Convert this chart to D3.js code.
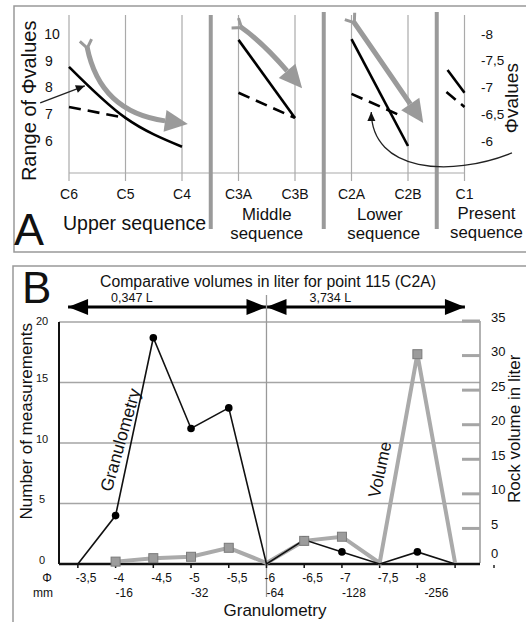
<!DOCTYPE html>
<html><head><meta charset="utf-8">
<script src="https://cdn.jsdelivr.net/npm/d3@7"></script>
<style>
body{margin:0;background:#fff}
svg{display:block}
text{font-family:"Liberation Sans",Arial,Helvetica,sans-serif;fill:#111}
</style>
</head><body>
<svg id="chart" width="526" height="622"></svg>
<script>
// ---------------- Panel A data ----------------
const stages = ['C6','C5','C4','C3A','C3B','C2A','C2B','C1'];
const sequenceNames = [['Upper sequence'], ['Middle','sequence'], ['Lower','sequence'], ['Present','sequence']];
const sequenceStages = [[0,2],[3,4],[5,6],[7,7]];
const leftTickValues = [6,7,8,9,10];
const rightTickLabels = ['-8','-7,5','-7','-6,5','-6'];
const rightTickValues = [10,9,8,7,6];
// solid = maximum phi, dashed = mode (stage index, value on left scale)
const solidSegments = [
  [[0,8.77],[1,6.86],[2,5.78]],
  [[3,9.78],[4,6.86]],
  [[5,9.81],[6,5.81]],
  [[6.7,8.65],[7,7.8]]
];
const dashedSegments = [
  [[0,7.27],[1,6.86]],
  [[3,7.8],[4,6.86]],
  [[5,7.76],[5.92,6.9]],
  [[6.68,7.83],[7,7.27]]
];
// grey trend arrows: tail, control, end
const trendArrows = [
  [[0.32,9.51],[0.55,7.08],[1.70,6.75]],
  [[3.04,10.26],[3.42,9.70],[3.86,8.62]],
  [[5.04,10.45],[5.36,9.48],[6.04,7.38]]
];
const pointerArrow = [[-0.51,7.42],[0.28,8.06]];
const curvedArrow = [[7.84,5.55],[6.74,4.62],[5.36,4.84],[5.35,7.08]];

// ---------------- Panel B data ----------------
const phi = [-3.5,-4,-4.5,-5,-5.5,-6,-6.5,-7,-7.5,-8,-8.5];
const phiLabels = ['-3,5','-4','-4,5','-5','-5,5','-6','-6,5','-7','-7,5','-8',''];
const mmPhi = [-4,-5,-6,-7,-8];
const mmLabels = ['-16','-32','-64','-128','-256'];
const granulometry = [0,4,18.7,11.2,12.9,0,2,1,0,1,0];
const volume = [null,0.2,0.7,0.9,2.2,0,3.2,3.8,0,30.2,0];
const countTicks = [0,5,10,15,20];
const volumeTicks = [0,5,10,15,20,25,30,35];
const spanFrom = [-3.37,-6];
const spanTo = [-6,-8.63];
const spanLabels = ['0,347 L','3,734 L'];

const svg = d3.select('#chart');
const GREY = '#9a9a9a';

const defs = svg.append('defs');
function marker(id, path, w, h, color){
  defs.append('marker').attr('id',id).attr('markerUnits','userSpaceOnUse')
    .attr('viewBox',`${-w} ${-h} ${2*w} ${2*h}`).attr('markerWidth',2*w).attr('markerHeight',2*h)
    .attr('refX',0).attr('refY',0).attr('orient','auto')
    .append('path').attr('d',path).attr('fill',color).attr('stroke','none');
}
marker('greyHead','M0,-11 L23,0 L0,11 Z',24,12,GREY);
defs.append('marker').attr('id','greyTail').attr('markerUnits','userSpaceOnUse')
  .attr('viewBox','-12 -12 24 24').attr('markerWidth',24).attr('markerHeight',24)
  .attr('refX',0).attr('refY',0).attr('orient','auto')
  .append('path').attr('d','M-7,-6 L1,0 L-7,6').attr('fill','none').attr('stroke',GREY).attr('stroke-width',3);
marker('blackHead','M-9,-4 L0,0 L-9,4 Z',10,5,'#111');
marker('bigHead','M-20,-8 L0,0 L-20,8 Z',21,9,'#000');
defs.append('marker').attr('id','bigHeadStart').attr('markerUnits','userSpaceOnUse')
  .attr('viewBox','-21 -9 42 18').attr('markerWidth',42).attr('markerHeight',18)
  .attr('refX',0).attr('refY',0).attr('orient','auto-start-reverse')
  .append('path').attr('d','M-20,-8 L0,0 L-20,8 Z').attr('fill','#000');

// ================= PANEL A =================
svg.append('rect').attr('x',14).attr('y',6).attr('width',540).attr('height',246)
  .attr('fill','none').attr('stroke','#999').attr('stroke-width',1.5);

const xA = d3.scaleLinear().domain([0,7]).range([69,464.5]);
const yA = d3.scaleLinear().domain([4.8,10]).range([173,34]);

const gA = svg.append('g');
gA.selectAll('line.stage').data(stages).join('line')
  .attr('x1',(d,i)=>xA(i)).attr('x2',(d,i)=>xA(i))
  .attr('y1',15).attr('y2',181).attr('stroke','#aaa').attr('stroke-width',1.2);
gA.append('line').attr('x1',xA(0)).attr('x2',xA(7)).attr('y1',yA(4.8)).attr('y2',yA(4.8))
  .attr('stroke','#aaa').attr('stroke-width',1.2);
const sepIdx = [2.5,4.5,6.5];
gA.selectAll('line.sep').data(sepIdx).join('line')
  .attr('x1',d=>xA(d)+0.5).attr('x2',d=>xA(d)+0.5)
  .attr('y1',(d,i)=>i===0?15:12).attr('y2',229)
  .attr('stroke',GREY).attr('stroke-width',4);

gA.selectAll('text.stage').data(stages).join('text')
  .attr('x',(d,i)=>xA(i)).attr('y',199).attr('text-anchor','middle')
  .attr('font-size',14).text(d=>d);

// sequence labels (one text element each, lines as tspans)
sequenceNames.forEach((lines,k)=>{
  const [a,b] = sequenceStages[k];
  if(k===0){
    svg.append('text').attr('x',xA(a)-6).attr('y',230).attr('font-size',19.5).text(lines[0]);
    return;
  }
  let cx = (xA(a)+xA(b))/2;
  if(k===3) cx = xA(a)+22;
  const base = k===3 ? 218.5 : 220;
  const t = svg.append('text').attr('text-anchor','middle').attr('font-size',16.8);
  lines.forEach((s,j)=>{
    t.append('tspan').attr('x',cx + (k===2 && j===1 ? 4 : 0)).attr('y',base + j*19).text(s);
  });
});

svg.append('text').attr('x',14).attr('y',245).attr('font-size',45).text('A');

gA.selectAll('text.lt').data(leftTickValues).join('text')
  .attr('x',d=>d===10?52:49).attr('y',d=>yA(d)).attr('dy','0.35em').attr('text-anchor','middle')
  .attr('font-size',14).text(d=>d);
svg.append('text').attr('transform',`translate(36,${yA(7.5)}) rotate(-90)`)
  .attr('text-anchor','middle').attr('font-size',20).text('Range of Φvalues');
gA.selectAll('text.rt').data(rightTickLabels).join('text')
  .attr('x',481).attr('y',(d,i)=>yA(rightTickValues[i])).attr('dy','0.35em')
  .attr('font-size',13.5).text(d=>d);
svg.append('text').attr('transform',`translate(518,${yA(7.6)}) rotate(-90)`)
  .attr('text-anchor','middle').attr('font-size',19).text('Φvalues');

const lineA = d3.line().x(d=>xA(d[0])).y(d=>yA(d[1]));
gA.selectAll('path.trend').data(trendArrows).join('path')
  .attr('d',d=>`M${xA(d[0][0])},${yA(d[0][1])} Q${xA(d[1][0])},${yA(d[1][1])} ${xA(d[2][0])},${yA(d[2][1])}`)
  .attr('fill','none').attr('stroke',GREY).attr('stroke-width',5)
  .attr('marker-end','url(#greyHead)').attr('marker-start','url(#greyTail)');
gA.selectAll('path.solid').data(solidSegments).join('path')
  .attr('d',d=>lineA.curve(d.length>2?d3.curveMonotoneX:d3.curveLinear)(d))
  .attr('fill','none').attr('stroke','#000').attr('stroke-width',2.6);
gA.selectAll('path.dash').data(dashedSegments).join('path')
  .attr('d',d=>d3.line().x(p=>xA(p[0])).y(p=>yA(p[1]))(d))
  .attr('fill','none').attr('stroke','#000').attr('stroke-width',2.6).attr('stroke-dasharray','12,7');
gA.append('path').attr('d',d3.line().x(p=>xA(p[0])).y(p=>yA(p[1]))(pointerArrow))
  .attr('fill','none').attr('stroke','#222').attr('stroke-width',1.3).attr('marker-end','url(#blackHead)');
const c = curvedArrow.map(p=>[xA(p[0]),yA(p[1])]);
gA.append('path').attr('d',`M${c[0]} C${c[1]} ${c[2]} ${c[3]}`)
  .attr('fill','none').attr('stroke','#222').attr('stroke-width',1.3).attr('marker-end','url(#blackHead)');

// ================= PANEL B =================
svg.append('rect').attr('x',13).attr('y',266).attr('width',540).attr('height',380)
  .attr('fill','none').attr('stroke','#999').attr('stroke-width',1.5);
svg.append('text').attr('x',22).attr('y',303).attr('font-size',44).text('B');

const xB = d3.scaleLinear().domain([-3.25,-8.83]).range([59,480]);
const yL = d3.scaleLinear().domain([0,20]).range([564,322]);
const yR = d3.scaleLinear().domain([0,35]).range([563,321]);
const gB = svg.append('g');

svg.append('text').attr('x',268).attr('y',287).attr('text-anchor','middle')
  .attr('font-size',15.8).text('Comparative volumes in liter for point 115 (C2A)');
gB.selectAll('line.span').data(spanFrom).join('line')
  .attr('x1',d=>xB(d)).attr('x2',(d,i)=>xB(spanTo[i])).attr('y1',307).attr('y2',307)
  .attr('stroke','#000').attr('stroke-width',3)
  .attr('marker-start','url(#bigHeadStart)').attr('marker-end','url(#bigHead)');
gB.selectAll('text.span').data(spanLabels).join('text')
  .attr('x',(d,i)=>xB(spanFrom[i])+43).attr('y',302).attr('font-size',12.5).text(d=>d);

gB.selectAll('line.grid').data(countTicks.filter(v=>v>0)).join('line')
  .attr('x1',xB(-3.25)).attr('x2',xB(-8.83)).attr('y1',d=>yL(d)).attr('y2',d=>yL(d))
  .attr('stroke','#a5a5a5').attr('stroke-width',1.4);
gB.append('line').attr('x1',xB(-6)).attr('x2',xB(-6)).attr('y1',295).attr('y2',597)
  .attr('stroke','#999').attr('stroke-width',1.3);
gB.append('line').attr('x1',xB(-8.83)).attr('x2',xB(-8.83)).attr('y1',yR(35)).attr('y2',yR(0))
  .attr('stroke','#999').attr('stroke-width',1.5);
gB.selectAll('line.rt').data(volumeTicks.filter(v=>v>0)).join('line')
  .attr('x1',xB(-8.83)-18).attr('x2',xB(-8.83)).attr('y1',d=>yR(d)).attr('y2',d=>yR(d))
  .attr('stroke','#a5a5a5').attr('stroke-width',3);
gB.selectAll('text.rt').data(volumeTicks).join('text')
  .attr('x',491).attr('y',d=>yR(d)-(d===0?10:4)).attr('dy','0.35em')
  .attr('font-size',13).text(d=>d);
gB.append('line').attr('x1',494).attr('x2',494).attr('y1',yR(0)+2).attr('y2',yR(0)+5)
  .attr('stroke','#222').attr('stroke-width',1.5);
gB.append('line').attr('x1',xB(-3.25)).attr('x2',xB(-3.25)).attr('y1',yL(20)).attr('y2',yL(0))
  .attr('stroke','#111').attr('stroke-width',2);
gB.selectAll('text.lt').data(countTicks).join('text')
  .attr('x',42).attr('y',d=>yL(d)-(d===20?1:4)).attr('dy','0.35em').attr('text-anchor','middle')
  .attr('font-size',11).text(d=>d);
svg.append('text').attr('transform',`translate(32,${yL(11.8)}) rotate(-90)`)
  .attr('text-anchor','middle').attr('font-size',17).text('Number of measurements');
svg.append('text').attr('transform',`translate(520,${yR(19.4)}) rotate(-90)`)
  .attr('text-anchor','middle').attr('font-size',17).text('Rock volume in liter');

gB.append('line').attr('x1',xB(-3.25)).attr('x2',xB(-8.83)).attr('y1',yL(0)).attr('y2',yL(0))
  .attr('stroke','#111').attr('stroke-width',2.4);
gB.selectAll('line.xt').data(phi).join('line')
  .attr('x1',d=>xB(d)).attr('x2',d=>xB(d)).attr('y1',yL(0)).attr('y2',yL(0)+4)
  .attr('stroke','#111').attr('stroke-width',1.5);
gB.selectAll('text.xt').data(phiLabels).join('text')
  .attr('x',(d,i)=>xB(phi[i])-2).attr('y',582).attr('font-size',12).text(d=>d);
gB.selectAll('text.mm').data(mmLabels).join('text')
  .attr('x',(d,i)=>xB(mmPhi[i])+(i===4?7:0)).attr('y',597).attr('font-size',12).text(d=>d);
svg.append('text').attr('x',47).attr('y',582).attr('text-anchor','middle').attr('font-size',12).text('Φ');
svg.append('text').attr('x',43).attr('y',597).attr('text-anchor','middle').attr('font-size',12).text('mm');
svg.append('text').attr('x',275).attr('y',616).attr('text-anchor','middle').attr('font-size',17).text('Granulometry');

const volPts = phi.map((p,i)=>({p,v:volume[i]})).filter(d=>d.v!==null);
gB.append('path').attr('d',d3.line().x(d=>xB(d.p)).y(d=>yR(d.v))(volPts))
  .attr('fill','none').attr('stroke','#aaa').attr('stroke-width',4).attr('stroke-linejoin','miter');
const granPts = phi.map((p,i)=>({p,v:granulometry[i]}));
gB.append('path').attr('d',d3.line().x(d=>xB(d.p)).y(d=>yL(d.v))(granPts))
  .attr('fill','none').attr('stroke','#111').attr('stroke-width',1.6);
gB.selectAll('circle.g').data(granPts.filter(d=>d.v>0)).join('circle')
  .attr('cx',d=>xB(d.p)).attr('cy',d=>yL(d.v)).attr('r',3.8).attr('fill','#000');
gB.selectAll('rect.v').data(volPts.filter(d=>d.v>0)).join('rect')
  .attr('x',d=>xB(d.p)-4.5).attr('y',d=>yR(d.v)-4.5).attr('width',9).attr('height',9)
  .attr('fill','#9c9c9c').attr('stroke','#7a7a7a').attr('stroke-width',1);

svg.append('text').attr('transform',`translate(${xB(-4.06)},${yL(10.25)}) rotate(-74)`)
  .attr('text-anchor','middle').attr('dy','0.35em').attr('font-size',17.5).text('Granulometry');
svg.append('text').attr('transform',`translate(${xB(-7.5)},${yL(7.8)}) rotate(-78)`)
  .attr('text-anchor','middle').attr('dy','0.35em').attr('font-size',17).text('Volume');
</script>
</body></html>
